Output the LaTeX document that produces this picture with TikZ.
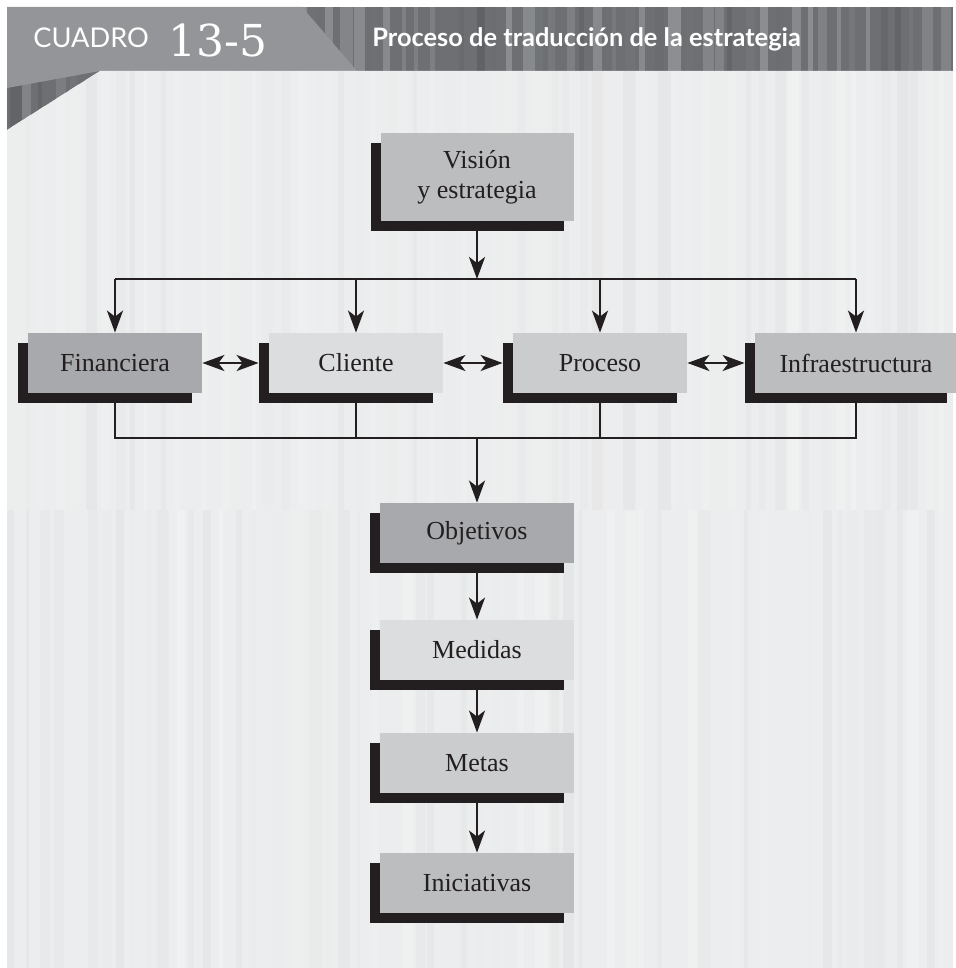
\documentclass[tikz,border=0pt]{standalone}
\usepackage{fontspec}
\setmainfont{Liberation Serif}
\newfontfamily\headsans{Lato}
\newfontfamily\numserif{DejaVu Serif}
\usetikzlibrary{arrows.meta,shadows,calc}
\definecolor{cdshadow}{HTML}{231F20}
\definecolor{cdpanel}{HTML}{ECEDEE}
\definecolor{cdpanelhi}{HTML}{F0F1F1}
\definecolor{cdstripe}{HTML}{E5E6E7}
\definecolor{cdband}{HTML}{6D6F72}
\definecolor{cdbandlt}{HTML}{8E9093}
\definecolor{cdbanddk}{HTML}{606266}
\definecolor{cdhead}{HTML}{939598}
\definecolor{cdgrayA}{HTML}{A7A9AC}
\definecolor{cdgrayB}{HTML}{BCBDBF}
\definecolor{cdgrayC}{HTML}{CBCCCE}
\definecolor{cdgrayD}{HTML}{DCDDDE}
\tikzset{
  card/.style   ={inner sep=0pt, minimum height=30pt, text=cdshadow,
                  font=\fontsize{13}{15}\selectfont,
                  general shadow={fill=cdshadow, shadow xshift=-5pt, shadow yshift=-5pt}},
  rowcard/.style={card, minimum width=87pt},
  colcard/.style={card, minimum width=97pt},
  headtxt/.style={anchor=base west, inner sep=0pt, text=white},
  link/.style   ={draw=cdshadow, line width=1.25pt},
  arr/.style    ={link, -{Stealth[length=11pt, width=8pt, inset=3pt]}},
  darr/.style   ={link, {Stealth[length=11pt, width=8pt, inset=3pt]}-{Stealth[length=11pt, width=8pt, inset=3pt]}},
}
% vertical stripes: #1 seed, #2 top, #3 height, #4 colour a, #5 colour b
\newcommand{\stripefill}[5]{%
  \pgfmathsetseed{#1}%
  \foreach \i in {0,...,63}{%
    \pgfmathsetmacro{\sx}{7+15*\i+6*rnd}
    \pgfmathsetmacro{\sw}{3+10*rnd}
    \pgfmathtruncatemacro{\sk}{100*rnd}
    \fill[#4!\sk!#5] (\sx,#2) rectangle ++(\sw,#3);}}

\begin{document}
\begin{tikzpicture}[x=0.5pt,y=-0.5pt]
  \useasboundingbox (0,0) rectangle (955,968);
  \fill[white] (0,0) rectangle (955,968);

  % header band
  \fill[cdband] (7,7) rectangle (953,130);
  \begin{scope}
    \clip (7,7) rectangle (953,130);
    \stripefill{5}{7}{123}{cdbandlt}{cdbanddk}
  \end{scope}
  \fill[cdhead] (7,7) -- (302,7) -- (357,71) -- (100,71) -- (7,88) -- cycle;

  % panel
  \fill[cdpanel] (7,130) -- (100,71) -- (953,71) -- (953,968) -- (7,968) -- cycle;
  \begin{scope}
    \clip (7,130) -- (100,71) -- (953,71) -- (953,968) -- (7,968) -- cycle;
    \stripefill{11}{71}{439}{cdstripe}{cdpanelhi}
    \stripefill{23}{510}{458}{cdstripe}{cdpanelhi}
  \end{scope}

  \node[headtxt, font=\headsans\fontsize{13.6}{15}\selectfont] (cuadro) at (33,48) {CUADRO};
  \node[headtxt, font=\numserif\fontsize{22}{24}\selectfont] (num) at (168,57) {13-5};
  \node[headtxt, font=\headsans\bfseries\fontsize{12.7}{14}\selectfont] (title) at (372,47)
       {Proceso de traducción de la estrategia};

  % boxes
  \node[card, fill=cdgrayB, minimum width=96.5pt, minimum height=44pt, align=center]
       (vision) at (477,177) {Visión\\y estrategia};
  \node[rowcard, fill=cdgrayA] (fin) at (115,363) {Financiera};
  \node[rowcard, fill=cdgrayD] (cli) at (356,363) {Cliente};
  \node[rowcard, fill=cdgrayC] (pro) at (600,363) {Proceso};
  \node[card, fill=cdgrayB, minimum width=101pt] (infra) at (856,363) {Infraestructura};
  \node[colcard, fill=cdgrayA] (obj) at (477,533) {Objetivos};
  \node[colcard, fill=cdgrayD] (med) at (477,650) {Medidas};
  \node[colcard, fill=cdgrayC] (met) at (477,763) {Metas};
  \node[colcard, fill=cdgrayB] (ini) at (477,883) {Iniciativas};

  % connectors
  \coordinate (split) at (477,279);
  \coordinate (join) at (477,438);
  \draw[arr] (vision.south) -- (split);
  \draw[link] (fin.north |- split) -- (infra.north |- split);
  \foreach \n in {fin,cli,pro,infra}
    \draw[arr] (\n.north |- split) -- (\n.north);
  \draw[darr, shorten >=5pt] (fin.east) -- (cli.west);
  \draw[darr, shorten >=5pt] (cli.east) -- (pro.west);
  \draw[darr, shorten >=5pt] (pro.east) -- (infra.west);
  \draw[link] (fin.south) |- (join) -| (infra.south);
  \foreach \n in {cli,pro}
    \draw[link] (\n.south) -- (\n.south |- join);
  \draw[arr] (join) -- (obj.north);
  \foreach \a/\b in {obj/med,med/met,met/ini}
    \draw[arr] (\a.south) -- (\b.north);
\end{tikzpicture}
\end{document}
